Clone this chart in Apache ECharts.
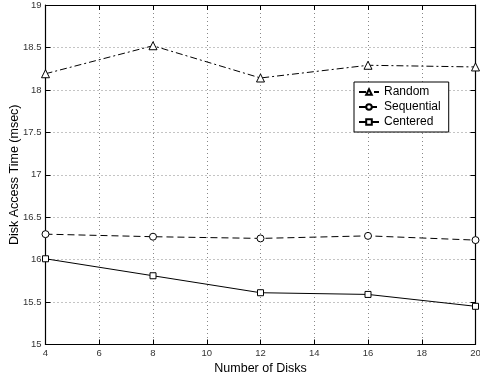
<!DOCTYPE html>
<html>
<head>
<meta charset="utf-8">
<script src="https://cdn.jsdelivr.net/npm/echarts@6/dist/echarts.min.js"></script>
<style>
  html, body { margin: 0; padding: 0; background: #fff; }
  #chart { width: 480px; height: 377px; }
</style>
</head>
<body>
<div id="chart"></div>
<script>
// Number of disks on the x axis
var disks = [4, 8, 12, 16, 20];
// Mean access time (msec) per placement strategy
var randomTimes = [18.19, 18.52, 18.14, 18.29, 18.27];
var sequentialTimes = [16.30, 16.27, 16.25, 16.28, 16.23];
var centeredTimes = [16.01, 15.81, 15.61, 15.59, 15.45];

var FONT = 'Liberation Sans, Arial, Helvetica, sans-serif';

function pairs(values) {
  return disks.map(function (d, i) { return [d, values[i]]; });
}

var chart = echarts.init(document.getElementById('chart'));

var gridLine = { show: true, lineStyle: { color: '#888', type: [1, 3], width: 1 } };
var tickLabel = { color: '#333', fontFamily: FONT, fontSize: 9.5 };

chart.setOption({
  animation: false,
  backgroundColor: '#fff',
  grid: {
    left: 45.5, right: 4.5, top: 5, bottom: 32.5,
    containLabel: false, outerBoundsMode: 'none'
  },
  legend: {
    orient: 'vertical',
    left: 354, top: 82,
    padding: [4, 8, 4, 4],
    itemGap: 3,
    itemWidth: 20, itemHeight: 7,
    borderColor: '#000', borderWidth: 1,
    backgroundColor: '#fff',
    textStyle: { color: '#000', fontFamily: FONT, fontSize: 12 },
    data: ['Random', 'Sequential', 'Centered']
  },
  xAxis: [{
    type: 'value', min: 4, max: 20, interval: 2,
    name: 'Number of Disks', nameLocation: 'middle', nameGap: 18,
    nameMoveOverlap: false,
    nameTextStyle: { color: '#000', fontFamily: FONT, fontSize: 12.5 },
    axisLine: { show: true, onZero: false, lineStyle: { color: '#000', width: 1.2 } },
    axisTick: { show: true, inside: true, length: 5, lineStyle: { color: '#000' } },
    axisLabel: Object.assign({ margin: 4 }, tickLabel),
    splitLine: gridLine
  }, {
    type: 'value', min: 4, max: 20, interval: 2, position: 'top',
    axisLine: { show: true, onZero: false, lineStyle: { color: '#000', width: 1.2 } },
    axisTick: { show: true, inside: true, length: 5, lineStyle: { color: '#000' } },
    axisLabel: { show: false },
    splitLine: { show: false }
  }],
  yAxis: [{
    type: 'value', min: 15, max: 19, interval: 0.5,
    name: 'Disk Access Time (msec)', nameLocation: 'middle', nameGap: 24,
    nameMoveOverlap: false,
    nameTextStyle: { color: '#000', fontFamily: FONT, fontSize: 12.5 },
    axisLine: { show: true, onZero: false, lineStyle: { color: '#000', width: 1.2 } },
    axisTick: { show: true, inside: true, length: 5, lineStyle: { color: '#000' } },
    axisLabel: Object.assign({ margin: 4 }, tickLabel),
    splitLine: gridLine
  }, {
    type: 'value', min: 15, max: 19, interval: 0.5, position: 'right',
    axisLine: { show: true, onZero: false, lineStyle: { color: '#000', width: 1.2 } },
    axisTick: { show: true, inside: true, length: 5, lineStyle: { color: '#000' } },
    axisLabel: { show: false },
    splitLine: { show: false }
  }],
  series: [{
    name: 'Random', type: 'line', data: pairs(randomTimes),
    symbol: 'triangle', symbolSize: 8,
    itemStyle: { color: '#fff', borderColor: '#000', borderWidth: 1 },
    lineStyle: { color: '#000', width: 1, type: [7, 3, 2, 3] },
    z: 3
  }, {
    name: 'Sequential', type: 'line', data: pairs(sequentialTimes),
    symbol: 'circle', symbolSize: 7,
    itemStyle: { color: '#fff', borderColor: '#000', borderWidth: 1 },
    lineStyle: { color: '#000', width: 1, type: [7, 4] },
    z: 3
  }, {
    name: 'Centered', type: 'line', data: pairs(centeredTimes),
    symbol: 'rect', symbolSize: 6,
    itemStyle: { color: '#fff', borderColor: '#000', borderWidth: 1 },
    lineStyle: { color: '#000', width: 1, type: 'solid' },
    z: 3
  }]
});
</script>
</body>
</html>
